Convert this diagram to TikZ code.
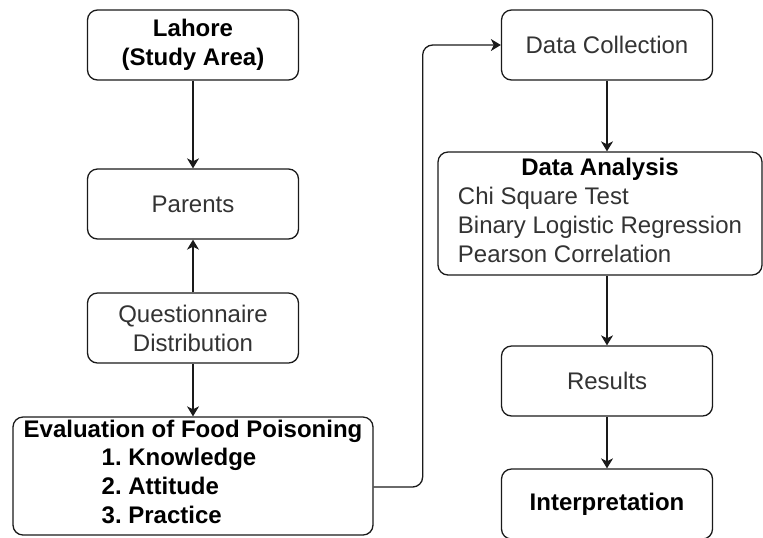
\documentclass[tikz,border=0pt]{standalone}
\usepackage{fontspec}
\setmainfont{Liberation Sans}
\usetikzlibrary{arrows.meta}
\frenchspacing
\definecolor{linegray}{HTML}{1A1A1A}
\definecolor{textgray}{HTML}{333333}
\tikzset{>={Stealth[length=5pt,width=6pt,inset=1.5pt]}}
\tikzset{
  box/.style={draw=linegray, line width=0.65pt, rounded corners=5pt, fill=white,
    minimum width=105.5pt, minimum height=35pt, inner sep=0pt, align=center,
    text=textgray, font=\fontsize{12}{14.5}\selectfont},
  boldbox/.style={box, text=black, font=\fontsize{12}{14.5}\selectfont\bfseries},
  link/.style={draw=linegray, line width=0.65pt, ->}
}

\begin{document}
\begin{tikzpicture}[x=0.5pt, y=-0.5pt]
\useasboundingbox (0,0) rectangle (763,537);
% left column
\node[boldbox] (lahore) at (193,45) {Lahore\\(Study Area)};
\node[box] (parents) at (193,204) {Parents};
\node[box] (quest) at (193,328) {Questionnaire\\Distribution};
\node[boldbox, minimum width=180pt, minimum height=59pt] (eval) at (193,476)
  {Evaluation of Food Poisoning\\
   \begin{tabular}{@{}l@{}}1. Knowledge\\2. Attitude\\3. Practice\end{tabular}\hspace*{14pt}};
% right column
\node[box] (collect) at (607,45) {Data Collection};
\node[box, minimum width=162pt, minimum height=61.5pt] (analysis) at (600,213.5)
  {\begin{tabular}{@{}l@{}}\multicolumn{1}{@{}c@{}}{\color{black}\bfseries Data Analysis}\\
   Chi Square Test\\Binary Logistic Regression\\Pearson Correlation\end{tabular}};
\node[box] (results) at (607,381) {Results};
\node[boldbox] (interp) at (607,504) {Interpretation};
% connectors
\draw[link] (lahore) -- (parents);
\draw[link] (quest) -- (parents);
\draw[link] (quest) -- (eval);
\draw[link, rounded corners=5pt] ([yshift=-5.5pt]eval.east) -- ++(49,0) |- (collect.west);
\draw[link] (collect) -- (collect |- analysis.north);
\draw[link] (analysis.south -| results) -- (results);
\draw[link] (results) -- (interp);
\end{tikzpicture}
\end{document}
